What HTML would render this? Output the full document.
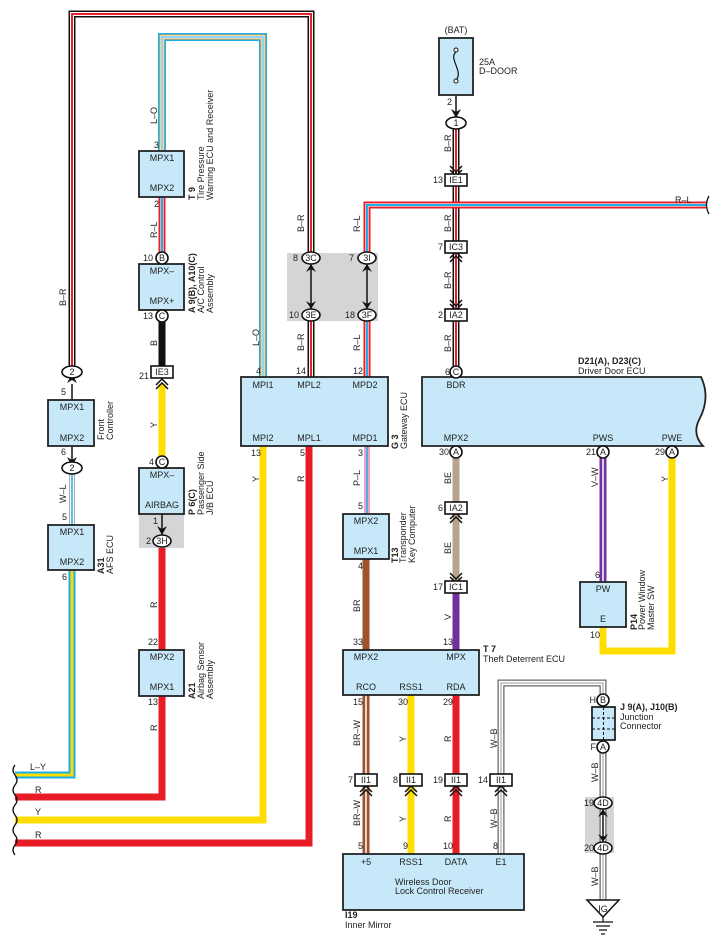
<!DOCTYPE html>
<html><head><meta charset="utf-8"><style>
html,body{margin:0;padding:0;background:#fff}
svg{display:block}
text{font-family:"Liberation Sans",sans-serif;font-size:9px;fill:#222}
.b{font-weight:bold}
.bx{fill:#c6e8f8;stroke:#222;stroke-width:1.8}
.cn{fill:#fff;stroke:#111;stroke-width:1.6}
.w{fill:none;stroke-linejoin:miter;stroke-linecap:butt}
</style></head><body>
<svg width="721" height="950" viewBox="0 0 721 950" xmlns="http://www.w3.org/2000/svg">
<defs>
<path id="pbr1" d="M72 372 V14 H311 V258"/>
<path id="pbr2" d="M311 315 V377"/>
<path id="plo" d="M162 151 V37 H263 V377"/>
<path id="prl1" d="M162 197 V258"/>
<path id="prl2" d="M367 258 V205 H706"/>
<path id="prl3" d="M367 315 V377"/>
<path id="pbat" d="M456 123 V372"/>
<path id="ppl" d="M367 446 V514"/>
<path id="ply" d="M72 570 V775 H15"/>
<path id="pwl" d="M72 468 V525"/>
<path id="pvw" d="M603 452 V582"/>
<path id="pbrw" d="M366 695 V854"/>
<path id="pwb1" d="M501 854 V683 H603 V700"/>
<path id="pwb2" d="M603 747 V900"/>
</defs>
<rect x="287" y="253" width="91" height="68" fill="#d4d5d7"/>
<rect x="139" y="514" width="45" height="34" fill="#d4d5d7"/>
<rect x="585" y="797" width="29" height="56" fill="#d4d5d7"/>

<g class="w">
<use href="#pbr1" stroke="#111" stroke-width="7"/><use href="#pbr1" stroke="#fff" stroke-width="4"/><use href="#pbr1" stroke="#e8202a" stroke-width="2"/>
<use href="#pbr2" stroke="#111" stroke-width="7"/><use href="#pbr2" stroke="#fff" stroke-width="4"/><use href="#pbr2" stroke="#e8202a" stroke-width="2"/>
<use href="#pbat" stroke="#111" stroke-width="7"/><use href="#pbat" stroke="#fff" stroke-width="4"/><use href="#pbat" stroke="#e8202a" stroke-width="2"/>
<use href="#plo" stroke="#1ab0e8" stroke-width="8"/><use href="#plo" stroke="#f9a23a" stroke-width="5"/><use href="#plo" stroke="#fff" stroke-width="3"/><use href="#plo" stroke="#1ab0e8" stroke-width="1"/>
<use href="#prl1" stroke="#e8202a" stroke-width="7"/><use href="#prl1" stroke="#f7a0a8" stroke-width="4"/><use href="#prl1" stroke="#1ab0e8" stroke-width="2"/>
<use href="#prl2" stroke="#e8202a" stroke-width="7"/><use href="#prl2" stroke="#f7a0a8" stroke-width="4"/><use href="#prl2" stroke="#1ab0e8" stroke-width="2"/>
<use href="#prl3" stroke="#e8202a" stroke-width="7"/><use href="#prl3" stroke="#f7a0a8" stroke-width="4"/><use href="#prl3" stroke="#1ab0e8" stroke-width="2"/>
<path d="M162 316 V372" stroke="#111" stroke-width="7"/>
<path d="M162 384 V462" stroke="#ffdd00" stroke-width="7"/>
<path d="M263 446 V820 H15" stroke="#ffdd00" stroke-width="7"/>
<path d="M309 446 V843 H15" stroke="#e81c24" stroke-width="7"/>
<use href="#ppl" stroke="#f5a0c8" stroke-width="6"/><use href="#ppl" stroke="#1ab0e8" stroke-width="1.5"/>
<path d="M162 548 V650 M162 696 V797 H15" stroke="#e81c24" stroke-width="7"/>
<use href="#ply" stroke="#1ab0e8" stroke-width="7"/><use href="#ply" stroke="#ffdd00" stroke-width="3"/>
<path d="M72 446 V468" stroke="#111" stroke-width="1.5"/>
<path d="M72 384 V400" stroke="#111" stroke-width="1.5"/>
<use href="#pwl" stroke="#aaa" stroke-width="6"/><use href="#pwl" stroke="#fff" stroke-width="4"/><use href="#pwl" stroke="#1ab0e8" stroke-width="1.5"/>
<path d="M456 458 V587" stroke="#b8a48c" stroke-width="7"/>
<path d="M456 593 V650" stroke="#7030a0" stroke-width="7"/>
<use href="#pvw" stroke="#7030a0" stroke-width="7"/><use href="#pvw" stroke="#fff" stroke-width="1.5"/>
<path d="M672 458 V651 H603 V627" stroke="#ffdd00" stroke-width="7"/>
<path d="M366 559 V650" stroke="#a0522d" stroke-width="7"/>
<use href="#pbrw" stroke="#a0522d" stroke-width="7"/><use href="#pbrw" stroke="#fff" stroke-width="1.5"/>
<path d="M411 695 V854" stroke="#ffdd00" stroke-width="7"/>
<path d="M456 695 V854" stroke="#e81c24" stroke-width="7"/>
<use href="#pwb1" stroke="#666" stroke-width="7"/><use href="#pwb1" stroke="#fff" stroke-width="4.5"/><use href="#pwb1" stroke="#999" stroke-width="1"/>
<use href="#pwb2" stroke="#666" stroke-width="7"/><use href="#pwb2" stroke="#fff" stroke-width="4.5"/><use href="#pwb2" stroke="#999" stroke-width="1"/>
<path d="M456 95 V118" stroke="#111" stroke-width="1.5"/>
<path d="M162 514 V535" stroke="#111" stroke-width="1.5"/>
<path d="M311 264 V309 M367 264 V309 M603 809 V842" stroke="#111" stroke-width="1.5"/>
</g>
<path d="M15 765 q-4 5 0 10 q4 5 0 10 q-4 5 0 10 q4 5 0 10 q-4 5 0 10 q4 5 0 10 q-4 5 0 10 q4 5 0 10 q-4 5 0 10" fill="none" stroke="#111" stroke-width="1.3"/>
<path d="M709 196 q-5 9 0 18" fill="none" stroke="#111" stroke-width="1.3"/>

<g fill="#111">
<path d="M67 383 L72 374 L77 383 L72 380Z"/>
<path d="M67 457 L72 466 L77 457 L72 460Z"/>
<path d="M451 109 L456 118 L461 109 L456 112Z"/>
<path d="M157 526 L162 535 L167 526 L162 529Z"/>
<path d="M306 272 L311 264 L316 272 L311 269Z"/><path d="M306 301 L311 309 L316 301 L311 304Z"/>
<path d="M362 272 L367 264 L372 272 L367 269Z"/><path d="M362 301 L367 309 L372 301 L367 304Z"/>
<path d="M598 817 L603 809 L608 817 L603 814Z"/><path d="M598 834 L603 842 L608 834 L603 837Z"/>
</g>
<g fill="none" stroke="#111" stroke-width="1.5">
<path d="M156 385 l6-6 6 6 M156 389 l6-6 6 6"/>
<path d="M450 166 l6 6 6-6 M450 170 l6 6 6-6"/>
<path d="M450 258 l6-6 6 6 M450 262 l6-6 6 6"/>
<path d="M450 300 l6 6 6-6 M450 304 l6 6 6-6"/>
<path d="M450 519 l6-6 6 6 M450 523 l6-6 6 6"/>
<path d="M450 573 l6 6 6-6 M450 577 l6 6 6-6"/>
<path d="M360 792 l6-6 6 6 M360 796 l6-6 6 6"/>
<path d="M405 792 l6-6 6 6 M405 796 l6-6 6 6"/>
<path d="M450 792 l6-6 6 6 M450 796 l6-6 6 6"/>
<path d="M495 792 l6-6 6 6 M495 796 l6-6 6 6"/>
</g>

<rect class="bx" x="139" y="151" width="45" height="46"/>
<rect class="bx" x="139" y="264" width="45" height="46"/>
<rect class="bx" x="48" y="400" width="46" height="46"/>
<rect class="bx" x="48" y="525" width="46" height="45"/>
<rect class="bx" x="139" y="468" width="45" height="46"/>
<rect class="bx" x="139" y="650" width="45" height="46"/>
<rect class="bx" x="241" y="377" width="147" height="69"/>
<path class="bx" d="M422 377 H701 Q711 398 699 420 Q692 434 703 446 H422 Z"/>
<rect class="bx" x="343" y="514" width="46" height="45"/>
<rect class="bx" x="343" y="650" width="136" height="45"/>
<rect class="bx" x="580" y="582" width="46" height="45"/>
<rect class="bx" x="343" y="854" width="181" height="56"/>
<rect class="bx" x="439" y="38" width="34" height="57"/>
<path d="M456 52 C448 58 464 72 456 80" fill="none" stroke="#111" stroke-width="1.2"/>
<circle cx="456" cy="50" r="2" fill="#fff" stroke="#111"/><circle cx="456" cy="81" r="2" fill="#fff" stroke="#111"/>
<rect class="bx" x="592" y="707" width="23" height="33"/>
<path d="M592 718 H615 M592 729 H615 M603.5 707 V740" stroke="#111" stroke-width="1" stroke-dasharray="3,2"/>
<path d="M587 900 H619 L603 917 Z" fill="#fff" stroke="#111" stroke-width="1.5"/>
<path d="M603 917 V922 M593 922 H613 M596 926 H610 M599 930 H607 M601 934 H605" stroke="#111" stroke-width="1.2"/>
<text x="603" y="912" text-anchor="middle">IG</text>

<g class="cn">
<ellipse cx="72" cy="372" rx="10" ry="6"/><ellipse cx="72" cy="468" rx="10" ry="6"/>
<ellipse cx="456" cy="123" rx="10" ry="6"/>
<circle cx="162" cy="258" r="6"/><circle cx="162" cy="316" r="6"/><circle cx="162" cy="462" r="6"/>
<ellipse cx="162" cy="541" rx="9" ry="6"/>
<ellipse cx="311" cy="258" rx="9" ry="6"/><ellipse cx="311" cy="315" rx="9" ry="6"/>
<ellipse cx="367" cy="258" rx="9" ry="6"/><ellipse cx="367" cy="315" rx="9" ry="6"/>
<circle cx="456" cy="372" r="6"/><circle cx="456" cy="452" r="6"/><circle cx="603" cy="452" r="6"/><circle cx="672" cy="452" r="6"/>
<circle cx="603" cy="700" r="6"/><circle cx="603" cy="747" r="6"/>
<ellipse cx="603" cy="803" rx="9" ry="6"/><ellipse cx="603" cy="848" rx="9" ry="6"/>
<rect x="151" y="366" width="22" height="12"/>
<rect x="445" y="174" width="22" height="12"/><rect x="445" y="241" width="22" height="12"/><rect x="445" y="309" width="22" height="12"/>
<rect x="445" y="502" width="22" height="12"/><rect x="445" y="581" width="22" height="12"/>
<rect x="355" y="774" width="22" height="12"/><rect x="400" y="774" width="22" height="12"/><rect x="445" y="774" width="22" height="12"/><rect x="490" y="774" width="22" height="12"/>
</g>
<g text-anchor="middle">
<text x="72" y="375">2</text><text x="72" y="471">2</text><text x="456" y="126">1</text>
<text x="162" y="261">B</text><text x="162" y="319">C</text><text x="162" y="465">C</text><text x="162" y="544">3H</text>
<text x="311" y="261">3C</text><text x="311" y="318">3E</text><text x="367" y="261">3I</text><text x="367" y="318">3F</text>
<text x="456" y="375">C</text><text x="456" y="455">A</text><text x="603" y="455">A</text><text x="672" y="455">A</text>
<text x="603" y="703">B</text><text x="603" y="750">A</text><text x="603" y="806">4D</text><text x="603" y="851">4D</text>
<text x="162" y="375">IE3</text><text x="456" y="183">IE1</text><text x="456" y="250">IC3</text><text x="456" y="318">IA2</text>
<text x="456" y="511">IA2</text><text x="456" y="590">IC1</text>
<text x="366" y="783">II1</text><text x="411" y="783">II1</text><text x="456" y="783">II1</text><text x="501" y="783">II1</text>
<text x="162" y="161">MPX1</text><text x="162" y="191">MPX2</text>
<text x="162" y="274">MPX–</text><text x="162" y="304">MPX+</text>
<text x="72" y="410">MPX1</text><text x="72" y="441">MPX2</text>
<text x="72" y="535">MPX1</text><text x="72" y="565">MPX2</text>
<text x="162" y="478">MPX–</text><text x="162" y="508">AIRBAG</text>
<text x="162" y="660">MPX2</text><text x="162" y="690">MPX1</text>
<text x="263" y="388">MPI1</text><text x="309" y="388">MPL2</text><text x="365" y="388">MPD2</text>
<text x="263" y="441">MPI2</text><text x="309" y="441">MPL1</text><text x="365" y="441">MPD1</text>
<text x="456" y="388">BDR</text><text x="456" y="441">MPX2</text><text x="603" y="441">PWS</text><text x="672" y="441">PWE</text>
<text x="366" y="524">MPX2</text><text x="366" y="554">MPX1</text>
<text x="366" y="660">MPX2</text><text x="456" y="660">MPX</text>
<text x="366" y="690">RCO</text><text x="411" y="690">RSS1</text><text x="456" y="690">RDA</text>
<text x="603" y="592">PW</text><text x="603" y="622">E</text>
<text x="366" y="865">+5</text><text x="411" y="865">RSS1</text><text x="456" y="865">DATA</text><text x="501" y="865">E1</text>
<text x="456" y="33">(BAT)</text>
</g>
<text x="395" y="885">Wireless Door</text><text x="395" y="894">Lock Control Receiver</text>
<text x="345" y="918" class="b">I19</text><text x="345" y="928">Inner Mirror</text>
<text x="479" y="65">25A</text><text x="479" y="74">D–DOOR</text>
<text x="578" y="364" class="b">D21(A), D23(C)</text><text x="578" y="374">Driver Door ECU</text>
<text x="483" y="652" class="b">T 7</text><text x="483" y="662">Theft Deterrent ECU</text>
<text x="620" y="710" class="b">J 9(A), J10(B)</text><text x="620" y="720">Junction</text><text x="620" y="729">Connector</text>
<text x="675" y="203">R–L</text>
<text x="30" y="770">L–Y</text><text x="35" y="793">R</text><text x="35" y="815">Y</text><text x="35" y="838">R</text>
<g text-anchor="end">
<text x="159" y="148">3</text><text x="159" y="207">2</text><text x="153" y="261">10</text><text x="153" y="319">13</text>
<text x="149" y="379">21</text><text x="154" y="465">4</text><text x="158" y="524">1</text><text x="151" y="544">2</text>
<text x="158" y="645">22</text><text x="158" y="705">13</text>
<text x="66" y="395">5</text><text x="66" y="455">6</text><text x="67" y="520">5</text><text x="67" y="580">6</text>
<text x="261" y="374">4</text><text x="306" y="374">14</text><text x="363" y="374">12</text>
<text x="298" y="261">8</text><text x="354" y="261">7</text><text x="299" y="318">10</text><text x="355" y="318">18</text>
<text x="261" y="456">13</text><text x="305" y="456">5</text><text x="363" y="456">3</text>
<text x="363" y="509">5</text><text x="363" y="569">4</text><text x="363" y="645">33</text><text x="453" y="645">13</text>
<text x="363" y="705">15</text><text x="408" y="705">30</text><text x="453" y="705">29</text>
<text x="353" y="783">7</text><text x="398" y="783">8</text><text x="443" y="783">19</text><text x="488" y="783">14</text>
<text x="363" y="849">5</text><text x="408" y="849">9</text><text x="453" y="849">10</text><text x="498" y="849">8</text>
<text x="452" y="105">2</text><text x="443" y="183">13</text><text x="443" y="250">7</text><text x="443" y="318">2</text>
<text x="450" y="375">6</text><text x="449" y="455">30</text><text x="596" y="455">21</text><text x="665" y="455">29</text>
<text x="443" y="511">6</text><text x="443" y="590">17</text><text x="600" y="578">6</text><text x="600" y="638">10</text>
<text x="596" y="703">H</text><text x="596" y="750">F</text><text x="594" y="806">19</text><text x="594" y="851">20</text>
</g>
<g>
<text transform="translate(157,124) rotate(-90)">L–O</text>
<text transform="translate(157,238) rotate(-90)">R–L</text>
<text transform="translate(157,346) rotate(-90)">B</text>
<text transform="translate(157,428) rotate(-90)">Y</text>
<text transform="translate(157,608) rotate(-90)">R</text>
<text transform="translate(157,731) rotate(-90)">R</text>
<text transform="translate(66,306) rotate(-90)">B–R</text>
<text transform="translate(66,503) rotate(-90)">W–L</text>
<text transform="translate(259,346) rotate(-90)">L–O</text>
<text transform="translate(304,232) rotate(-90)">B–R</text>
<text transform="translate(304,351) rotate(-90)">B–R</text>
<text transform="translate(360,232) rotate(-90)">R–L</text>
<text transform="translate(360,351) rotate(-90)">R–L</text>
<text transform="translate(259,482) rotate(-90)">Y</text>
<text transform="translate(304,482) rotate(-90)">R</text>
<text transform="translate(360,486) rotate(-90)">P–L</text>
<text transform="translate(360,612) rotate(-90)">BR</text>
<text transform="translate(360,746) rotate(-90)">BR–W</text>
<text transform="translate(406,742) rotate(-90)">Y</text>
<text transform="translate(451,742) rotate(-90)">R</text>
<text transform="translate(497,748) rotate(-90)">W–B</text>
<text transform="translate(360,826) rotate(-90)">BR–W</text>
<text transform="translate(406,822) rotate(-90)">Y</text>
<text transform="translate(451,822) rotate(-90)">R</text>
<text transform="translate(497,828) rotate(-90)">W–B</text>
<text transform="translate(451,152) rotate(-90)">B–R</text>
<text transform="translate(451,232) rotate(-90)">B–R</text>
<text transform="translate(451,289) rotate(-90)">B–R</text>
<text transform="translate(451,352) rotate(-90)">B–R</text>
<text transform="translate(451,484) rotate(-90)">BE</text>
<text transform="translate(451,554) rotate(-90)">BE</text>
<text transform="translate(451,620) rotate(-90)">V</text>
<text transform="translate(598,487) rotate(-90)">V–W</text>
<text transform="translate(668,482) rotate(-90)">Y</text>
<text transform="translate(598,782) rotate(-90)">W–B</text>
<text transform="translate(598,886) rotate(-90)">W–B</text>
</g>
<g>
<text class="b" transform="translate(195,200) rotate(-90)">T 9</text>
<text transform="translate(204,200) rotate(-90)">Tire Pressure</text>
<text transform="translate(213,200) rotate(-90)">Warning ECU and Receiver</text>
<text class="b" transform="translate(195,313) rotate(-90)">A 9(B), A10(C)</text>
<text transform="translate(204,313) rotate(-90)">A/C Control</text>
<text transform="translate(213,313) rotate(-90)">Assembly</text>
<text transform="translate(104,440) rotate(-90)">Front</text>
<text transform="translate(113,440) rotate(-90)">Controller</text>
<text class="b" transform="translate(104,574) rotate(-90)">A31</text>
<text transform="translate(113,574) rotate(-90)">AFS ECU</text>
<text class="b" transform="translate(195,515) rotate(-90)">P 6(C)</text>
<text transform="translate(204,515) rotate(-90)">Passenger Side</text>
<text transform="translate(213,515) rotate(-90)">J/B ECU</text>
<text class="b" transform="translate(195,699) rotate(-90)">A21</text>
<text transform="translate(204,699) rotate(-90)">Airbag Sensor</text>
<text transform="translate(213,699) rotate(-90)">Assembly</text>
<text class="b" transform="translate(398,449) rotate(-90)">G 3</text>
<text transform="translate(407,449) rotate(-90)">Gateway ECU</text>
<text class="b" transform="translate(398,563) rotate(-90)">T13</text>
<text transform="translate(406,563) rotate(-90)">Transponder</text>
<text transform="translate(415,563) rotate(-90)">Key Computer</text>
<text class="b" transform="translate(637,630) rotate(-90)">P14</text>
<text transform="translate(645,630) rotate(-90)">Power Window</text>
<text transform="translate(654,630) rotate(-90)">Master SW</text>
</g>
</svg>
</body></html>
